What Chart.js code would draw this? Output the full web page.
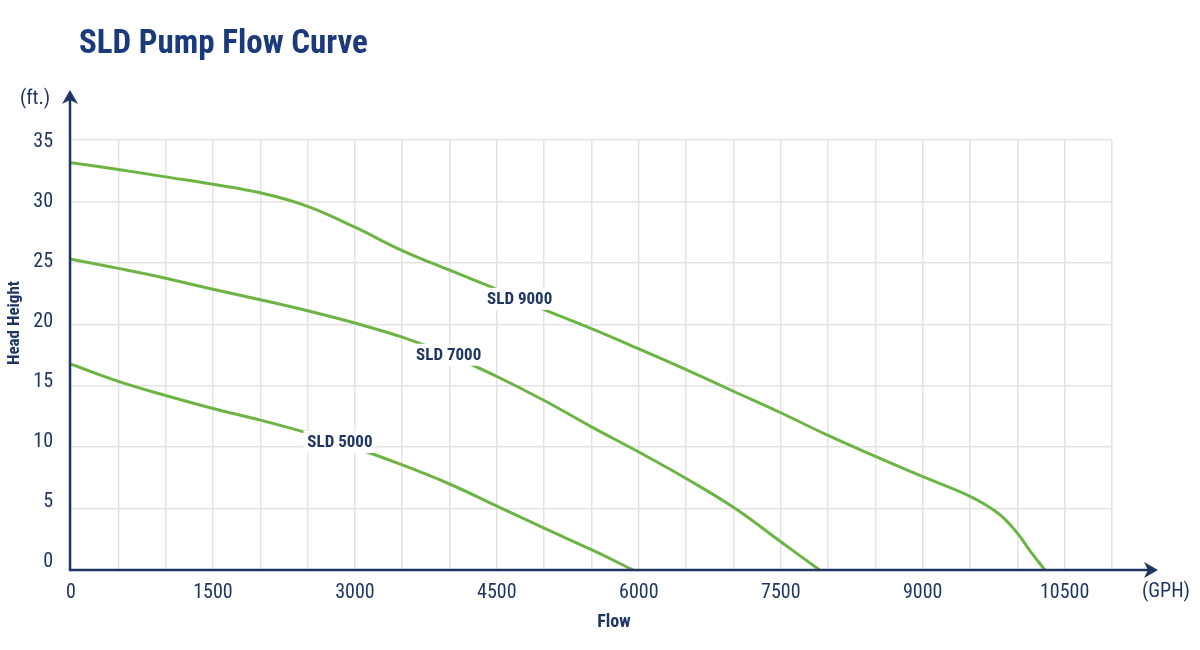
<!DOCTYPE html>
<html><head><meta charset="utf-8">
<script src="https://cdn.jsdelivr.net/npm/chart.js@4.4.1/dist/chart.umd.min.js"></script>
<style>html,body{margin:0;padding:0;background:#fff;}#wrap{width:1200px;height:650px;position:relative;}</style>
</head><body><div id="wrap"><canvas id="c" width="1200" height="650"></canvas></div>
<script>
// ---- data ----
const chartTitle = 'SLD Pump Flow Curve';
const flowLabelTicks = [0, 1500, 3000, 4500, 6000, 7500, 9000, 10500];
const headLabelTicks = [0, 5, 10, 15, 20, 25, 30, 35];
const seriesNames = ['SLD 9000', 'SLD 7000', 'SLD 5000'];

const sld9000Flow = [0, 500, 1000, 1500, 2000, 2500, 3000, 3500, 4000, 4500, 5000, 5500, 6000, 6500, 7000, 7500, 8000, 8500, 9000, 9500, 9800, 10000, 10130, 10290];
const sld9000Head = [33.15, 32.6, 32.0, 31.4, 30.7, 29.6, 27.9, 26.0, 24.4, 22.85, 21.2, 19.65, 18.0, 16.3, 14.55, 12.8, 10.95, 9.25, 7.6, 6.0, 4.6, 3.0, 1.6, 0];

const sld7000Flow = [0, 500, 1000, 1500, 2000, 2500, 3000, 3500, 4000, 4500, 5000, 5500, 6000, 6500, 7000, 7500, 7910];
const sld7000Head = [25.3, 24.55, 23.75, 22.85, 22.0, 21.1, 20.1, 18.95, 17.5, 15.75, 13.8, 11.65, 9.6, 7.45, 5.1, 2.3, 0];

const sld5000Flow = [0, 500, 1000, 1500, 2000, 2500, 3000, 3500, 4000, 4500, 5000, 5500, 5940];
const sld5000Head = [16.75, 15.35, 14.2, 13.15, 12.2, 11.15, 9.95, 8.55, 7.0, 5.2, 3.4, 1.65, 0];

const labelFlow = [4741, 3991, 2842];
const labelHead = [22.07, 17.52, 10.42];

// ---- styles ----
const FONT = '"Liberation Sans Narrow", "Roboto Condensed", "DejaVu Sans Condensed", "Arial Narrow", Roboto, sans-serif';
const NAVY = '#1f3563';
const TITLE_BLUE = '#1b3a7b';
const GREEN = '#6cb545';
const GRID = '#e3e3e3';

function pts(xs, ys) { return xs.map((x, i) => ({x: x, y: ys[i]})); }
const seriesData = [pts(sld9000Flow, sld9000Head), pts(sld7000Flow, sld7000Head), pts(sld5000Flow, sld5000Head)];

Chart.defaults.font.family = FONT;

const decor = {
  id: 'decor',
  afterDatasetsDraw(chart) {
    const ctx = chart.ctx;
    const xs = chart.scales.x, ys = chart.scales.y;
    const x0 = xs.getPixelForValue(0) - 1, y0 = ys.getPixelForValue(0);
    ctx.save();
    // curve labels with white boxes
    ctx.font = 'bold 17px ' + FONT;
    ctx.textAlign = 'center';
    ctx.textBaseline = 'middle';
    seriesNames.forEach((n, i) => {
      const px = xs.getPixelForValue(labelFlow[i]);
      const py = ys.getPixelForValue(labelHead[i]);
      const w = ctx.measureText(n).width;
      ctx.fillStyle = '#fff';
      ctx.fillRect(px - w / 2 - 4, py - 11, w + 8, 22);
      ctx.fillStyle = NAVY;
      ctx.fillText(n, px, py + 1);
    });
    // axes with arrows
    ctx.strokeStyle = NAVY;
    ctx.fillStyle = NAVY;
    ctx.lineWidth = 2.5;
    const yTip = 90, xTip = 1158;
    ctx.beginPath();
    ctx.moveTo(x0, y0 + 1.25);
    ctx.lineTo(x0, yTip + 8);
    ctx.moveTo(x0 - 1.25, y0);
    ctx.lineTo(xTip - 8, y0);
    ctx.stroke();
    ctx.beginPath();
    ctx.moveTo(x0, yTip); ctx.lineTo(x0 - 8, yTip + 14); ctx.lineTo(x0, yTip + 10); ctx.lineTo(x0 + 8, yTip + 14); ctx.closePath();
    ctx.fill();
    ctx.beginPath();
    ctx.moveTo(xTip, y0); ctx.lineTo(xTip - 14, y0 - 8); ctx.lineTo(xTip - 10, y0); ctx.lineTo(xTip - 14, y0 + 8); ctx.closePath();
    ctx.fill();
    // title
    ctx.textAlign = 'left';
    ctx.textBaseline = 'alphabetic';
    ctx.fillStyle = TITLE_BLUE;
    ctx.font = 'bold 33px ' + FONT;
    ctx.fillText(chartTitle, 79, 53);
    // units
    ctx.fillStyle = NAVY;
    ctx.font = '20px ' + FONT;
    ctx.textBaseline = 'middle';
    ctx.textAlign = 'center';
    ctx.fillText('(ft.)', 35, 99);
    ctx.fillText('(GPH)', 1166, 592);
    // axis titles
    ctx.font = 'bold 18px ' + FONT;
    ctx.fillText('Flow', 614, 622);
    ctx.save();
    ctx.translate(15, 323);
    ctx.rotate(-Math.PI / 2);
    ctx.font = 'bold 17px ' + FONT;
    ctx.fillText('Head Height', 0, 0);
    ctx.restore();
    ctx.restore();
  }
};

new Chart(document.getElementById('c'), {
  type: 'line',
  data: {
    datasets: seriesNames.map((n, i) => ({
      label: n,
      data: seriesData[i],
      borderColor: GREEN,
      borderWidth: 3,
      pointRadius: 0,
      fill: false,
      tension: 0.4
    }))
  },
  options: {
    responsive: false,
    animation: false,
    layout: {padding: {left: 0, top: 140, right: 88, bottom: 0}},
    plugins: {legend: {display: false}, title: {display: false}, tooltip: {enabled: false}},
    scales: {
      x: {
        type: 'linear', min: 0, max: 11000,
        grid: {color: GRID, lineWidth: 1.5, drawTicks: false},
        border: {display: false},
        ticks: {
          stepSize: 500, autoSkip: false, maxRotation: 0, padding: 11,
          color: NAVY, font: {size: 20},
          callback: v => flowLabelTicks.includes(v) ? String(v) : ''
        },
        afterFit: s => { s.height = 80; }
      },
      y: {
        type: 'linear', position: 'left', min: 0, max: 35,
        grid: {color: GRID, lineWidth: 1.5, drawTicks: false},
        border: {display: false},
        ticks: {stepSize: 5, display: false},
        afterFit: s => { s.width = 0; }
      },
      yLabels: {
        type: 'linear', position: 'left', min: -0.692, max: 35.142,
        grid: {display: false, drawTicks: false},
        border: {display: false},
        ticks: {
          stepSize: 5, includeBounds: false, padding: 18, color: NAVY, font: {size: 20},
          callback: v => headLabelTicks.includes(v) ? String(v) : ''
        },
        afterFit: s => { s.width = 71; }
      }
    }
  },
  plugins: [decor]
});
</script></body></html>
